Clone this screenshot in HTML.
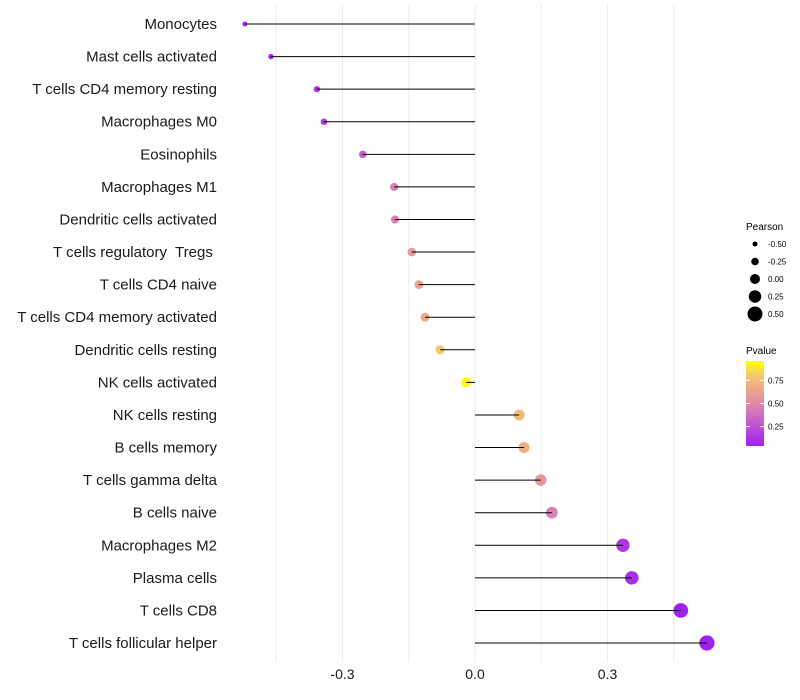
<!DOCTYPE html>
<html><head><meta charset="utf-8"><style>
html,body{margin:0;padding:0;background:#fff;}
svg{display:block;font-family:"Liberation Sans",sans-serif;}
text{white-space:pre;}
</style></head><body>
<svg id="chart" width="800" height="700">
<defs><linearGradient id="pgrad" x1="0" y1="1" x2="0" y2="0">
<stop offset="0" stop-color="#A020F0"/><stop offset="0.3" stop-color="#C75FCB"/><stop offset="0.5" stop-color="#E08AA8"/><stop offset="0.7" stop-color="#EDAD85"/><stop offset="0.85" stop-color="#F4CF6A"/><stop offset="1" stop-color="#FFFF00"/></linearGradient></defs>
<g id="grid"></g>
<g id="marks"></g>
<g id="ylabels"></g>
<g id="xlabels"></g>
<g>
<text x="746" y="230" font-size="10" fill="#000">Pearson</text>
<g id="sizeleg"></g>
</g>
<g>
<text x="746" y="354" font-size="10" fill="#000">Pvalue</text>
<rect x="746" y="361" width="18" height="85" fill="url(#pgrad)"/>
<g id="colleg"></g>
</g>
</svg>
<script>
const categories=["Monocytes","Mast cells activated","T cells CD4 memory resting","Macrophages M0","Eosinophils","Macrophages M1","Dendritic cells activated","T cells regulatory  Tregs ","T cells CD4 naive","T cells CD4 memory activated","Dendritic cells resting","NK cells activated","NK cells resting","B cells memory","T cells gamma delta","B cells naive","Macrophages M2","Plasma cells","T cells CD8","T cells follicular helper"];
const pearson=[-0.521,-0.462,-0.358,-0.342,-0.254,-0.183,-0.181,-0.143,-0.127,-0.113,-0.079,-0.020,0.100,0.111,0.149,0.174,0.335,0.355,0.466,0.525];
const pvalue=[0.03,0.06,0.15,0.16,0.3,0.45,0.45,0.58,0.63,0.67,0.8,0.97,0.75,0.7,0.57,0.46,0.14,0.1,0.05,0.03];
const xTicks=[-0.3,0,0.3];
const xTickLabels=["-0.3","0.0","0.3"];
const sizeLegendValues=[-0.5,-0.25,0,0.25,0.5];
const sizeLegendLabels=["-0.50","-0.25","0.00","0.25","0.50"];
const colorLegendValues=[0.75,0.5,0.25];
const colorLegendLabels=["0.75","0.50","0.25"];

const NS="http://www.w3.org/2000/svg";
function x(v){return 475+v*441.7;}
function y(i){return 24+i*32.58;}
function r(v){return 5+5*v;}
function cy(p){return 446-(p-0.04)/(0.96-0.04)*85;}
const stops=[[0,[160,32,240]],[0.3,[199,95,203]],[0.5,[224,138,168]],[0.7,[237,173,133]],[0.85,[244,207,106]],[1,[255,255,0]]];
function col(p){let t=Math.max(0,Math.min(1,(p-0.04)/0.92));for(let k=1;k<stops.length;k++){if(t<=stops[k][0]){const a=stops[k-1],b=stops[k],f=(t-a[0])/(b[0]-a[0]);return "rgb("+a[1].map((c,j)=>Math.round(c+(b[1][j]-c)*f)).join(",")+")";}}return "rgb(255,255,0)";}
function mk(tag,attrs,parent){const e=document.createElementNS(NS,tag);for(const k in attrs)e.setAttribute(k,attrs[k]);parent.appendChild(e);return e;}
const grid=document.getElementById("grid"),marks=document.getElementById("marks"),yl=document.getElementById("ylabels"),xl=document.getElementById("xlabels");
for(let k=-3;k<=3;k++){const g=k*0.15;const l=mk("line",{x1:x(g),x2:x(g),y1:5,y2:662,stroke:"#ebebeb","stroke-width":1},grid);

}
xTicks.forEach((t,i)=>{const e=mk("text",{x:x(t),y:679,"font-size":14,"text-anchor":"middle",fill:"#1a1a1a"},xl);e.textContent=xTickLabels[i];

});
categories.forEach((c,i)=>{
const t=mk("text",{x:217,y:y(i)+5,"font-size":15,"text-anchor":"end",fill:"#1a1a1a"},yl);t.textContent=c;


const p=mk("circle",{cx:x(pearson[i]),cy:y(i),r:r(pearson[i]),fill:col(pvalue[i])},marks);


const l=mk("line",{x1:x(0),x2:x(pearson[i]),y1:y(i),y2:y(i),stroke:"#000","stroke-width":1},marks);


});
const sl=document.getElementById("sizeleg");
sizeLegendValues.forEach((v,i)=>{const yy=244+i*17.5;
const c=mk("circle",{cx:755,cy:yy,r:r(v),fill:"#000"},sl);


const t=mk("text",{x:768,y:yy+3,"font-size":8,fill:"#000"},sl);t.textContent=sizeLegendLabels[i];

});
const cl=document.getElementById("colleg");
colorLegendValues.forEach((v,i)=>{const yy=cy(v);
mk("line",{x1:746,x2:750,y1:yy,y2:yy,stroke:"#fff","stroke-width":1},cl);
mk("line",{x1:760,x2:764,y1:yy,y2:yy,stroke:"#fff","stroke-width":1},cl);
const t=mk("text",{x:768,y:yy+3,"font-size":8,fill:"#000"},cl);t.textContent=colorLegendLabels[i];

});
</script>
</body></html>
